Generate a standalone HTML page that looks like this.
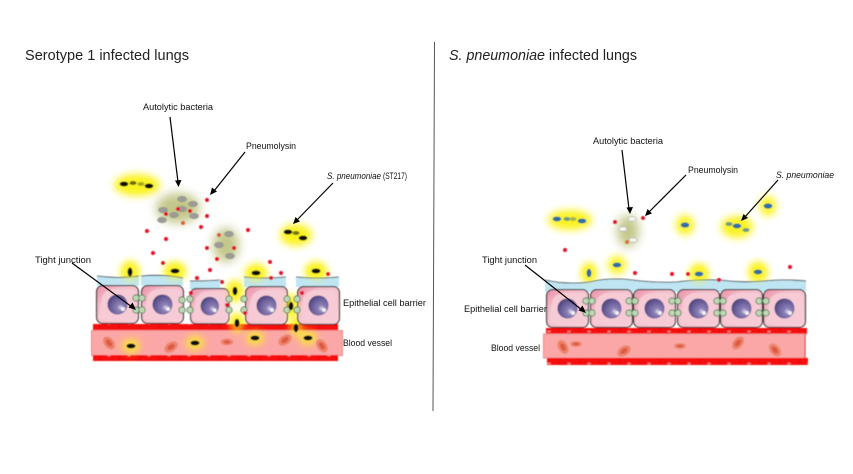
<!DOCTYPE html>
<html><head><meta charset="utf-8"><style>
html,body{margin:0;padding:0;background:#fff}
svg{display:block}
text{font-family:"Liberation Sans",sans-serif;fill:#111}
.s{font-size:9px}.t{font-size:14.5px;fill:#222}
</style></head><body>
<svg width="853" height="474" viewBox="0 0 853 474" xmlns="http://www.w3.org/2000/svg">
<defs>
<filter id="b3" x="-100%" y="-100%" width="300%" height="300%"><feGaussianBlur stdDeviation="3.6"/></filter>
<filter id="b5" x="-80%" y="-80%" width="260%" height="260%"><feGaussianBlur stdDeviation="5"/></filter>
<filter id="soft"><feGaussianBlur stdDeviation="0.4"/></filter>
<linearGradient id="cellg" x1="0" y1="0" x2="1" y2="1"><stop offset="0" stop-color="#e98ea6"/><stop offset=".3" stop-color="#f3bcc9"/><stop offset="1" stop-color="#f8d3da"/></linearGradient>
<radialGradient id="nuc" cx=".65" cy=".65" r=".75"><stop offset="0" stop-color="#dcd8ec"/><stop offset=".22" stop-color="#8d80b6"/><stop offset=".75" stop-color="#5f5490"/><stop offset="1" stop-color="#3f3868"/></radialGradient>
<pattern id="bar" width="20" height="8" patternUnits="userSpaceOnUse"><rect width="20" height="8" fill="#f60d0d"/><rect x="19.400" width=".6" height="8" fill="#c00"/><ellipse cx="9" cy="3.500" rx="1.800" ry=".9" fill="#f88"/></pattern>
<symbol id="cell" width="43" height="39" viewBox="0 0 43 39" overflow="visible">
<rect x=".6" y=".6" width="41.8" height="37.8" rx="6" fill="url(#cellg)" stroke="#222" stroke-width="1.1"/>
<path d="M3 34Q25 37 40 35V9Q40 4 34 4H18Q8 5 6 13Q4 24 3 34Z" fill="#f7cbd5"/>
<circle cx="21.500" cy="19.500" r="10" fill="url(#nuc)"/>
<circle cx="27" cy="24" r="2" fill="#f2f2f2"/>
</symbol>
<symbol id="rbc" width="18" height="14" viewBox="-9 -7 18 14" overflow="visible">
<ellipse rx="7.5" ry="5" fill="#f0806a" stroke="#eaa695" stroke-width=".8"/><ellipse rx="4" ry="2.300" fill="#dc5a42"/>
</symbol>
</defs>
<rect width="853" height="474" fill="#fff"/>
<line x1="434.500" y1="42" x2="433" y2="411" stroke="#555" stroke-width="1"/>

<g filter="url(#soft)">
<g fill="#fbf31e" filter="url(#b3)">
<ellipse cx="137" cy="185" rx="23" ry="11"/><ellipse cx="296" cy="235" rx="16" ry="11"/>
<ellipse cx="130" cy="272" rx="9" ry="11"/><ellipse cx="175" cy="271" rx="11" ry="9"/><ellipse cx="256" cy="273" rx="11" ry="9"/><ellipse cx="316" cy="271" rx="11" ry="9"/>
<ellipse cx="235" cy="291" rx="8" ry="11"/><ellipse cx="291" cy="306" rx="7" ry="12"/><ellipse cx="237" cy="323" rx="7" ry="10"/><ellipse cx="296" cy="328" rx="7" ry="10"/>
<ellipse cx="131" cy="346" rx="11" ry="9"/><ellipse cx="195" cy="343" rx="11" ry="9"/><ellipse cx="255" cy="338" rx="11" ry="9"/><ellipse cx="308" cy="338" rx="11" ry="9"/>
</g>
<g fill="#b9bd74" filter="url(#b5)" opacity=".85">
<ellipse cx="178" cy="208" rx="22" ry="15"/><ellipse cx="226" cy="245" rx="13" ry="17"/>
</g>

<rect x="93" y="324" width="245" height="7" fill="url(#bar)"/>
<rect x="91.500" y="330.500" width="251" height="25" fill="#fba7a7" stroke="#ee8a8a" stroke-width="1"/>
<rect x="93" y="355" width="245" height="6" fill="url(#bar)"/>
<g fill="#fbf31e" filter="url(#b3)" opacity=".8">
<ellipse cx="131" cy="346" rx="9" ry="7"/><ellipse cx="195" cy="343" rx="9" ry="7"/><ellipse cx="255" cy="338" rx="9" ry="7"/><ellipse cx="308" cy="338" rx="9" ry="7"/><ellipse cx="237" cy="325" rx="6" ry="8"/><ellipse cx="296" cy="328" rx="6" ry="8"/>
</g>
<use href="#rbc" transform="translate(109 343) rotate(50)" x="-9" y="-7"/>
<use href="#rbc" transform="translate(171 347) rotate(-35)" x="-9" y="-7"/>
<use href="#rbc" transform="translate(227 342) scale(.85 .7)" x="-9" y="-7"/>
<use href="#rbc" transform="translate(285 340) rotate(-35)" x="-9" y="-7"/>
<use href="#rbc" transform="translate(322 346) rotate(55)" x="-9" y="-7"/>

<g fill="#bfe5f3">
<path d="M97 276Q118 279 139 276V286H97Z"/>
<path d="M141 276Q165 274 183 278V286H141Z"/>
<path d="M190 281Q208 281 220 280V290H190Z"/>
<path d="M244 277Q265 279 286 277V287H244Z"/>
<path d="M296 277Q318 279 339 277V287H296Z"/>
</g>
<g fill="none" stroke="#223" stroke-width=".8">
<path d="M97 276Q118 279 139 276"/>
<path d="M141 276Q165 274 183 278"/>
<path d="M190 281Q208 281 220 280"/>
<path d="M244 277Q265 279 286 277"/>
<path d="M296 277Q318 279 339 277"/>
</g>
<use href="#cell" x="96" y="285"/>
<use href="#cell" x="141" y="285"/>
<use href="#cell" transform="translate(190 288) scale(.92 .93)"/>
<use href="#cell" x="245" y="286"/>
<use href="#cell" x="297" y="286"/>

<g fill="#fbf31e" filter="url(#b3)" opacity=".7">
<ellipse cx="130" cy="272" rx="7" ry="8"/><ellipse cx="175" cy="272" rx="8" ry="7"/><ellipse cx="256" cy="274" rx="8" ry="7"/><ellipse cx="316" cy="272" rx="8" ry="7"/><ellipse cx="235" cy="291" rx="6" ry="8"/><ellipse cx="291" cy="306" rx="5" ry="9"/>
</g>
<g fill="#bcd9b3" stroke="#4f7050" stroke-width=".8">
<circle cx="136" cy="298" r="3.2"/><circle cx="142" cy="298" r="3.2"/><circle cx="136" cy="310" r="3.2"/><circle cx="142" cy="310" r="3.2"/>
<circle cx="182" cy="300" r="3.2"/><circle cx="190" cy="299" r="3.2"/><circle cx="182" cy="310" r="3.2"/><circle cx="190" cy="310" r="3.2"/>
<circle cx="229" cy="299" r="3.2"/><circle cx="244" cy="299" r="3.2"/><circle cx="229" cy="310" r="3.2"/><circle cx="244" cy="310" r="3.2"/>
<circle cx="287" cy="299" r="3.2"/><circle cx="297" cy="299" r="3.2"/><circle cx="287" cy="310" r="3.2"/><circle cx="297" cy="310" r="3.2"/>
</g>
<g fill="#080808">
<ellipse cx="124" cy="184" rx="4.300" ry="2.400"/><ellipse cx="149" cy="186" rx="4.300" ry="2.400"/>
<ellipse cx="133" cy="183" rx="3.500" ry="2" fill="#6d6d10"/><ellipse cx="141" cy="184" rx="3.500" ry="2" fill="#a8a820"/>
<ellipse cx="288" cy="232" rx="4.300" ry="2.400"/><ellipse cx="296" cy="233" rx="3.500" ry="2" fill="#77770f"/><ellipse cx="303" cy="238" rx="4.300" ry="2.400"/>
<ellipse cx="130" cy="272" rx="2.400" ry="4.500"/><ellipse cx="175" cy="271" rx="4.500" ry="2.400"/><ellipse cx="256" cy="273" rx="4.500" ry="2.400"/><ellipse cx="316" cy="271" rx="4.500" ry="2.400"/>
<ellipse cx="235" cy="291" rx="2.400" ry="4.300"/><ellipse cx="291" cy="306" rx="2.400" ry="4.300"/><ellipse cx="237" cy="323" rx="2.400" ry="4.300"/><ellipse cx="296" cy="328" rx="2.400" ry="4.300"/>
<ellipse cx="131" cy="346" rx="4.500" ry="2.400"/><ellipse cx="195" cy="343" rx="4.500" ry="2.400"/><ellipse cx="255" cy="338" rx="4.500" ry="2.400"/><ellipse cx="308" cy="338" rx="4.500" ry="2.400"/>
</g>
<g fill="#9b9b98" stroke="#7f8a70" stroke-width=".4">
<ellipse cx="182" cy="199" rx="4.600" ry="2.800"/><ellipse cx="193" cy="204" rx="4.600" ry="2.800"/><ellipse cx="182" cy="209" rx="4.600" ry="2.800"/><ellipse cx="163" cy="210" rx="4.600" ry="2.800"/><ellipse cx="194" cy="216" rx="4.600" ry="2.800"/><ellipse cx="174" cy="215" rx="4.600" ry="2.800"/><ellipse cx="162" cy="220" rx="4.600" ry="2.800"/>
<ellipse cx="229" cy="234" rx="4.600" ry="2.800"/><ellipse cx="219" cy="245" rx="4.600" ry="2.800"/><ellipse cx="230" cy="256" rx="4.600" ry="2.800"/>
</g>
<g fill="#e8102a">
<circle cx="207" cy="200" r="2"/><circle cx="207" cy="216" r="2"/><circle cx="190" cy="211" r="2"/><circle cx="178" cy="209" r="2"/><circle cx="166" cy="214" r="2"/><circle cx="183" cy="223" r="2" fill="#d9603a"/><circle cx="201" cy="227" r="2"/><circle cx="147" cy="231" r="2"/><circle cx="166" cy="239" r="2"/><circle cx="153" cy="253" r="2"/><circle cx="163" cy="263" r="2"/><circle cx="248" cy="230" r="2"/><circle cx="219" cy="235" r="2" fill="#d9603a"/><circle cx="207" cy="248" r="2"/><circle cx="234" cy="248" r="2"/><circle cx="217" cy="259" r="2"/><circle cx="210" cy="270" r="2"/><circle cx="197" cy="278" r="2"/><circle cx="222" cy="282" r="2"/><circle cx="191" cy="293" r="2"/><circle cx="227" cy="305" r="2"/><circle cx="245" cy="313" r="2"/><circle cx="270" cy="262" r="2"/><circle cx="281" cy="273" r="2"/><circle cx="271" cy="278" r="2"/><circle cx="328" cy="274" r="2"/><circle cx="302" cy="293" r="2"/>
</g>

<g fill="#fbf31e" filter="url(#b3)">
<ellipse cx="570" cy="220" rx="22" ry="10"/><ellipse cx="685" cy="225" rx="9" ry="10"/><ellipse cx="768" cy="206" rx="8" ry="10"/><ellipse cx="737" cy="227" rx="16" ry="11"/>
<ellipse cx="589" cy="273" rx="7" ry="10"/><ellipse cx="617" cy="265" rx="9" ry="9"/><ellipse cx="699" cy="274" rx="9" ry="10"/><ellipse cx="758" cy="272" rx="9" ry="10"/>
</g>
<g fill="#b9bd74" filter="url(#b5)" opacity=".85"><ellipse cx="628" cy="231" rx="11" ry="16"/></g>

<rect x="546" y="328" width="261" height="6" fill="url(#bar)"/>
<rect x="543.500" y="334" width="261.500" height="24" fill="#fba7a7" stroke="#ee8a8a" stroke-width="1"/>
<line x1="805" y1="334" x2="805" y2="358" stroke="#e01010" stroke-width="1"/>
<rect x="547" y="358" width="261" height="7" fill="url(#bar)"/>
<use href="#rbc" transform="translate(563 347) rotate(60)" x="-9" y="-7"/>
<use href="#rbc" transform="translate(576 344) scale(.8 .6)" x="-9" y="-7"/>
<use href="#rbc" transform="translate(624 351) rotate(-35)" x="-9" y="-7"/>
<use href="#rbc" transform="translate(680 346) scale(.8 .6)" x="-9" y="-7"/>
<use href="#rbc" transform="translate(738 343) rotate(-50)" x="-9" y="-7"/>
<use href="#rbc" transform="translate(775 350) rotate(50)" x="-9" y="-7"/>

<path d="M545 280Q567 285 589 282Q611 277 632 280Q655 283 677 282Q698 279 720 280Q742 283 763 281Q785 279 806 281V292H545Z" fill="#bfe5f3"/>
<path d="M545 280Q567 285 589 282Q611 277 632 280Q655 283 677 282Q698 279 720 280Q742 283 763 281Q785 279 806 281" fill="none" stroke="#223" stroke-width=".8"/>
<use href="#cell" x="546" y="289"/>
<use href="#cell" x="590" y="289"/>
<use href="#cell" x="633" y="289"/>
<use href="#cell" x="677" y="289"/>
<use href="#cell" x="720" y="289"/>
<use href="#cell" x="763" y="289"/>
<g fill="#fbf31e" filter="url(#b3)" opacity=".7">
<ellipse cx="589" cy="273" rx="6" ry="8"/><ellipse cx="699" cy="274" rx="8" ry="8"/><ellipse cx="758" cy="272" rx="8" ry="8"/>
</g>
<g fill="#bcd9b3" stroke="#4f7050" stroke-width=".8">
<circle cx="586" cy="301" r="3.2"/><circle cx="592" cy="301" r="3.2"/><circle cx="586" cy="313" r="3.2"/><circle cx="592" cy="313" r="3.2"/>
<circle cx="629" cy="301" r="3.2"/><circle cx="635" cy="301" r="3.2"/><circle cx="629" cy="313" r="3.2"/><circle cx="635" cy="313" r="3.2"/>
<circle cx="672" cy="301" r="3.2"/><circle cx="678" cy="301" r="3.2"/><circle cx="672" cy="313" r="3.2"/><circle cx="678" cy="313" r="3.2"/>
<circle cx="717" cy="301" r="3.2"/><circle cx="723" cy="301" r="3.2"/><circle cx="717" cy="313" r="3.2"/><circle cx="723" cy="313" r="3.2"/>
<circle cx="759" cy="301" r="3.2"/><circle cx="766" cy="301" r="3.2"/><circle cx="759" cy="313" r="3.2"/><circle cx="766" cy="313" r="3.2"/>
</g>
<g fill="#2f6fa5">
<ellipse cx="557" cy="219" rx="4.300" ry="2.400"/><ellipse cx="567" cy="219" rx="3.500" ry="2" fill="#6f9a80"/><ellipse cx="573" cy="219" rx="3.500" ry="2" fill="#a3b550"/><ellipse cx="582" cy="221" rx="4.300" ry="2.400"/>
<ellipse cx="685" cy="225" rx="4.300" ry="2.600"/><ellipse cx="768" cy="206" rx="4.300" ry="2.600"/>
<ellipse cx="729" cy="224" rx="3.500" ry="2" fill="#6f9a80"/><ellipse cx="737" cy="226" rx="4.300" ry="2.400"/><ellipse cx="746" cy="230" rx="3.500" ry="2" fill="#6f9a80"/>
<ellipse cx="589" cy="273" rx="2.400" ry="4.300"/><ellipse cx="617" cy="265" rx="4.300" ry="2.400"/><ellipse cx="699" cy="274" rx="4.300" ry="2.400"/><ellipse cx="758" cy="272" rx="4.300" ry="2.400"/>
</g>
<g fill="#f4f4f2" stroke="#8d8d80" stroke-width=".5">
<ellipse cx="632" cy="219" rx="4" ry="2.400"/><ellipse cx="623" cy="229" rx="4" ry="2.400"/><ellipse cx="633" cy="240" rx="4" ry="2.400"/>
</g>
<g fill="#e8102a">
<circle cx="615" cy="222" r="2"/><circle cx="643" cy="218" r="2"/><circle cx="565" cy="250" r="2"/><circle cx="627" cy="242" r="2" fill="#d9703a"/><circle cx="635" cy="273" r="2"/><circle cx="672" cy="274" r="2"/><circle cx="688" cy="274" r="2"/><circle cx="719" cy="280" r="2"/><circle cx="790" cy="267" r="2"/>
</g>
</g>

<g stroke="#000" stroke-width="1.2" fill="none">
<line x1="170" y1="117" x2="178" y2="182"/><line x1="245" y1="152" x2="214" y2="191"/><line x1="333" y1="183" x2="296" y2="221"/><line x1="72" y1="263" x2="132" y2="307"/>
<line x1="622" y1="150" x2="629" y2="209"/><line x1="686" y1="175" x2="649" y2="212"/><line x1="778" y1="180" x2="744" y2="218"/><line x1="525" y1="265" x2="582" y2="310"/>
</g>
<g fill="#000">
<path d="M178.500 187L175 180.500L181.500 180Z"/><path d="M210 195L212 187.500L217 191.500Z"/><path d="M293 224L295.500 217L300 221.500Z"/><path d="M136 310L128.500 307.500L132.500 302.500Z"/>
<path d="M630 214L626.500 207.500L633 207Z"/><path d="M645 216L647.500 209L652 213.500Z"/><path d="M741 221L743.500 214L748 218Z"/><path d="M586 313L578.500 310.500L582.500 305.500Z"/>
</g>

<text class="t" x="25" y="60" textLength="164" lengthAdjust="spacingAndGlyphs">Serotype 1 infected lungs</text>
<text class="t" x="449" y="60" textLength="188" lengthAdjust="spacingAndGlyphs"><tspan font-style="italic">S. pneumoniae</tspan> infected lungs</text>
<text class="s" x="143" y="110" textLength="70" lengthAdjust="spacingAndGlyphs">Autolytic bacteria</text>
<text class="s" x="246" y="149" textLength="50" lengthAdjust="spacingAndGlyphs">Pneumolysin</text>
<text class="s" x="327" y="179" textLength="54" lengthAdjust="spacingAndGlyphs" font-style="italic">S. pneumoniae</text>
<text class="s" x="383" y="179" textLength="24" lengthAdjust="spacingAndGlyphs">(ST217)</text>
<text class="s" x="35" y="263" textLength="56" lengthAdjust="spacingAndGlyphs">Tight junction</text>
<text class="s" x="343" y="306" textLength="83" lengthAdjust="spacingAndGlyphs">Epithelial cell barrier</text>
<text class="s" x="343" y="346" textLength="49" lengthAdjust="spacingAndGlyphs">Blood vessel</text>
<text class="s" x="593" y="144" textLength="70" lengthAdjust="spacingAndGlyphs">Autolytic bacteria</text>
<text class="s" x="688" y="173" textLength="50" lengthAdjust="spacingAndGlyphs">Pneumolysin</text>
<text class="s" x="776" y="178" textLength="58" lengthAdjust="spacingAndGlyphs" font-style="italic">S. pneumoniae</text>
<text class="s" x="482" y="263" textLength="55" lengthAdjust="spacingAndGlyphs">Tight junction</text>
<text class="s" x="464" y="312" textLength="83" lengthAdjust="spacingAndGlyphs">Epithelial cell barrier</text>
<text class="s" x="491" y="351" textLength="49" lengthAdjust="spacingAndGlyphs">Blood vessel</text>
</svg>
</body></html>
